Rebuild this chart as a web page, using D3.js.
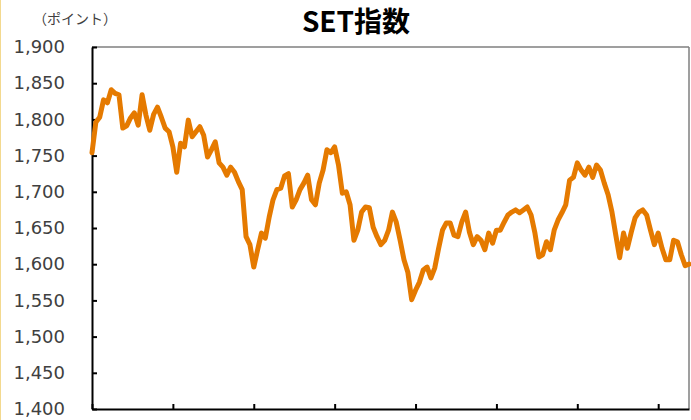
<!DOCTYPE html>
<html>
<head>
<meta charset="utf-8">
<script src="https://cdn.jsdelivr.net/npm/d3@7"></script>
<style>
  html, body { margin: 0; padding: 0; background: #fff; }
  svg { display: block; }
</style>
</head>
<body>
<svg id="chart" width="691" height="420"></svg>
<script>
// ---- data ----
const title = "SET指数";
const unitLabel = "（ポイント）";
const yTicks = [1400, 1450, 1500, 1550, 1600, 1650, 1700, 1750, 1800, 1850, 1900];
const xTickIndex = [0, 21, 42, 63, 84, 105, 126, 147];
const setIndex = [
  1754,1796,1803,1827,1823,1841,1836,1834,1788,1791,
  1802,1809,1792,1834,1806,1785,1807,1817,1803,1788,
  1783,1762,1727,1767,1762,1799,1776,1783,1790,1778,
  1748,1758,1769,1740,1734,1723,1734,1727,1714,1703,
  1638,1627,1596,1620,1643,1636,1665,1689,1703,1705,
  1722,1725,1679,1689,1703,1712,1723,1689,1682,1712,
  1730,1758,1754,1762,1737,1698,1700,1682,1633,1647,
  1672,1679,1678,1651,1638,1627,1633,1647,1672,1658,
  1633,1606,1589,1551,1564,1575,1592,1596,1581,1595,
  1622,1647,1657,1657,1640,1638,1658,1672,1644,1627,
  1638,1633,1620,1643,1629,1647,1647,1658,1668,1672,
  1675,1671,1675,1679,1668,1643,1610,1613,1631,1620,
  1647,1661,1671,1682,1716,1720,1740,1730,1723,1734,
  1720,1737,1730,1712,1696,1672,1640,1609,1643,1622,
  1644,1664,1672,1675,1668,1647,1627,1643,1622,1606,
  1606,1633,1631,1613,1598,1600
];

// ---- layout ----
const svg = d3.select("#chart");
const L = 92, R = 689, T = 47, B = 409;

const x = d3.scaleLinear().domain([0, setIndex.length - 1]).range([L, R]);
const y = d3.scaleLinear().domain([1400, 1900]).range([B, T]);

// left strip (reference edge)
svg.append("rect").attr("x", 0).attr("y", 0).attr("width", 1).attr("height", 420).attr("fill", "#f3d98f");

// title
svg.append("text")
  .attr("x", 356).attr("y", 32)
  .attr("text-anchor", "middle")
  .attr("font-family", "'Noto Sans CJK JP', 'Noto Sans', sans-serif")
  .attr("font-weight", "bold")
  .attr("font-size", 28)
  .attr("fill", "#000")
  .text(title);

// unit label
svg.append("text")
  .attr("x", 33).attr("y", 24)
  .attr("font-family", "'Noto Sans CJK JP', sans-serif")
  .attr("font-size", 14)
  .attr("fill", "#404040")
  .text(unitLabel);

// top & right frame
svg.append("line").attr("x1", L).attr("x2", R).attr("y1", T).attr("y2", T)
  .attr("stroke", "#7f7f7f").attr("stroke-width", 1.5);
svg.append("line").attr("x1", R).attr("x2", R).attr("y1", T).attr("y2", B)
  .attr("stroke", "#7f7f7f").attr("stroke-width", 1.5);

// y axis
const yAxis = svg.append("g")
  .attr("transform", `translate(${L},0)`)
  .call(d3.axisLeft(y).tickValues(yTicks).tickFormat(d3.format(",")).tickSize(-5).tickSizeOuter(0).tickPadding(27));
yAxis.select(".domain").attr("stroke", "#000").attr("stroke-width", 2);
yAxis.selectAll(".tick line").attr("stroke", "#000").attr("stroke-width", 2);
yAxis.selectAll(".tick text")
  .attr("font-family", "'DejaVu Sans', Verdana, sans-serif")
  .attr("font-size", 18)
  .attr("fill", "#404040");

// x axis
const xAxis = svg.append("g")
  .attr("transform", `translate(0,${B})`)
  .call(d3.axisBottom(x).tickValues(xTickIndex).tickFormat("").tickSize(-5).tickSizeOuter(0));
xAxis.select(".domain").attr("stroke", "#000").attr("stroke-width", 2);
xAxis.selectAll(".tick line").attr("stroke", "#000").attr("stroke-width", 2);

// line
const line = d3.line().x((d, i) => x(i)).y(d => y(d));
svg.append("path")
  .datum(setIndex)
  .attr("d", line)
  .attr("fill", "none")
  .attr("stroke", "#E57A00")
  .attr("stroke-width", 5)
  .attr("stroke-linejoin", "round")
  .attr("stroke-linecap", "round");
</script>
</body>
</html>
